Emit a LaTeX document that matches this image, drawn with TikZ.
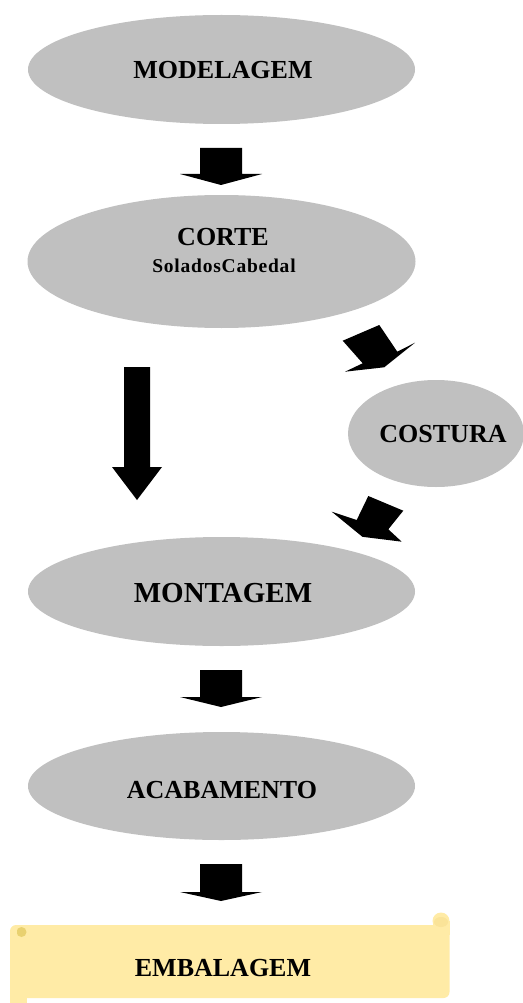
\documentclass[tikz,border=0pt]{standalone}
\usepackage{fontspec}
\setmainfont{Liberation Serif}
\usetikzlibrary{shapes.geometric}
\definecolor{stepgray}{HTML}{C0C0C0}
\definecolor{scrollfill}{HTML}{FFEBA6}
\definecolor{scrolldark}{HTML}{E9D170}
\definecolor{scrollcurl}{HTML}{FAE398}
\tikzset{
  stage/.style={ellipse, fill=stepgray, draw=none, inner sep=0pt},
  big/.style={font=\bfseries\fontsize{26}{30}\selectfont, inner sep=0pt},
  bigger/.style={font=\bfseries\fontsize{29}{32}\selectfont, inner sep=0pt},
  small/.style={font=\bfseries\fontsize{19.5}{22}\selectfont\addfontfeature{LetterSpace=4}, inner sep=0pt},
  blockfill/.style={fill=black},
  pics/barrow/.style n args={4}{code={
    \fill[blockfill] (-#1,0) -- (#1,0) -- (#1,#2) -- (#3,#2) -- (0,{#2+#4}) -- (-#3,#2) -- (-#1,#2) -- cycle;
  }},
}
\begin{document}
\begin{tikzpicture}[x=1pt,y=-1pt]
\useasboundingbox (0,0) rectangle (522,1003);

% stages
\node[stage, minimum width=387pt, minimum height=109pt] (modelagem) at (221.5,69.5) {};
\node[big] (tmodelagem) at (223,70) {MODELAGEM};

\node[stage, minimum width=388pt, minimum height=133pt] (corte) at (221.5,261.5) {};
\node[big] (tcorte) at (223,237) {CORTE};
\node[small] (tsub) at (224,266) {SoladosCabedal};

\node[stage, minimum width=176pt, minimum height=107pt] (costura) at (436,433.5) {};
\node[big] (tcostura) at (443,434) {COSTURA};

\node[stage, minimum width=387pt, minimum height=109pt] (montagem) at (221.5,591.5) {};
\node[bigger] (tmontagem) at (223,593) {MONTAGEM};

\node[stage, minimum width=387pt, minimum height=108pt] (acabamento) at (221.5,786) {};
\node[big] (tacabamento) at (222,790) {ACABAMENTO};

% scroll (embalagem)
\fill[scrollfill, rounded corners=6pt] (10,925) rectangle (449.5,998);
\fill[scrollfill] (10,985) rectangle (27,1003);
\fill[scrollfill] (432.5,921) rectangle (449.5,935);
\fill[scrollfill] (441,921) circle (8.5);
\fill[scrollcurl] (441,922) ellipse (7 and 5);
\begin{scope}
  \clip (17,926) rectangle (30,940);
  \fill[scrolldark] (21.5,932) circle (5);
\end{scope}
\node[big] (tembalagem) at (223,968) {EMBALAGEM};

% block arrows
\pic at (221,148) {barrow={21}{26}{41}{11}};
\pic at (137,367) {barrow={13}{100}{25}{33}};
% corte -> costura
\fill[blockfill] (342.7,340.7) -- (379.3,325) -- (397.3,351.7) -- (415,342.7)
  -- (384.2,367.3) -- (345,371.7) -- (362.7,363.3) -- cycle;
% costura -> montagem
\fill[blockfill] (368.3,496) -- (403.3,510.7) -- (388.3,529.3) -- (401.7,541.7)
  -- (362.4,536.8) -- (331.7,511.7) -- (356.7,520) -- cycle;
\pic at (221,670) {barrow={21}{27}{41}{10}};
\pic at (221,864) {barrow={21}{28}{41}{9}};
\end{tikzpicture}
\end{document}
